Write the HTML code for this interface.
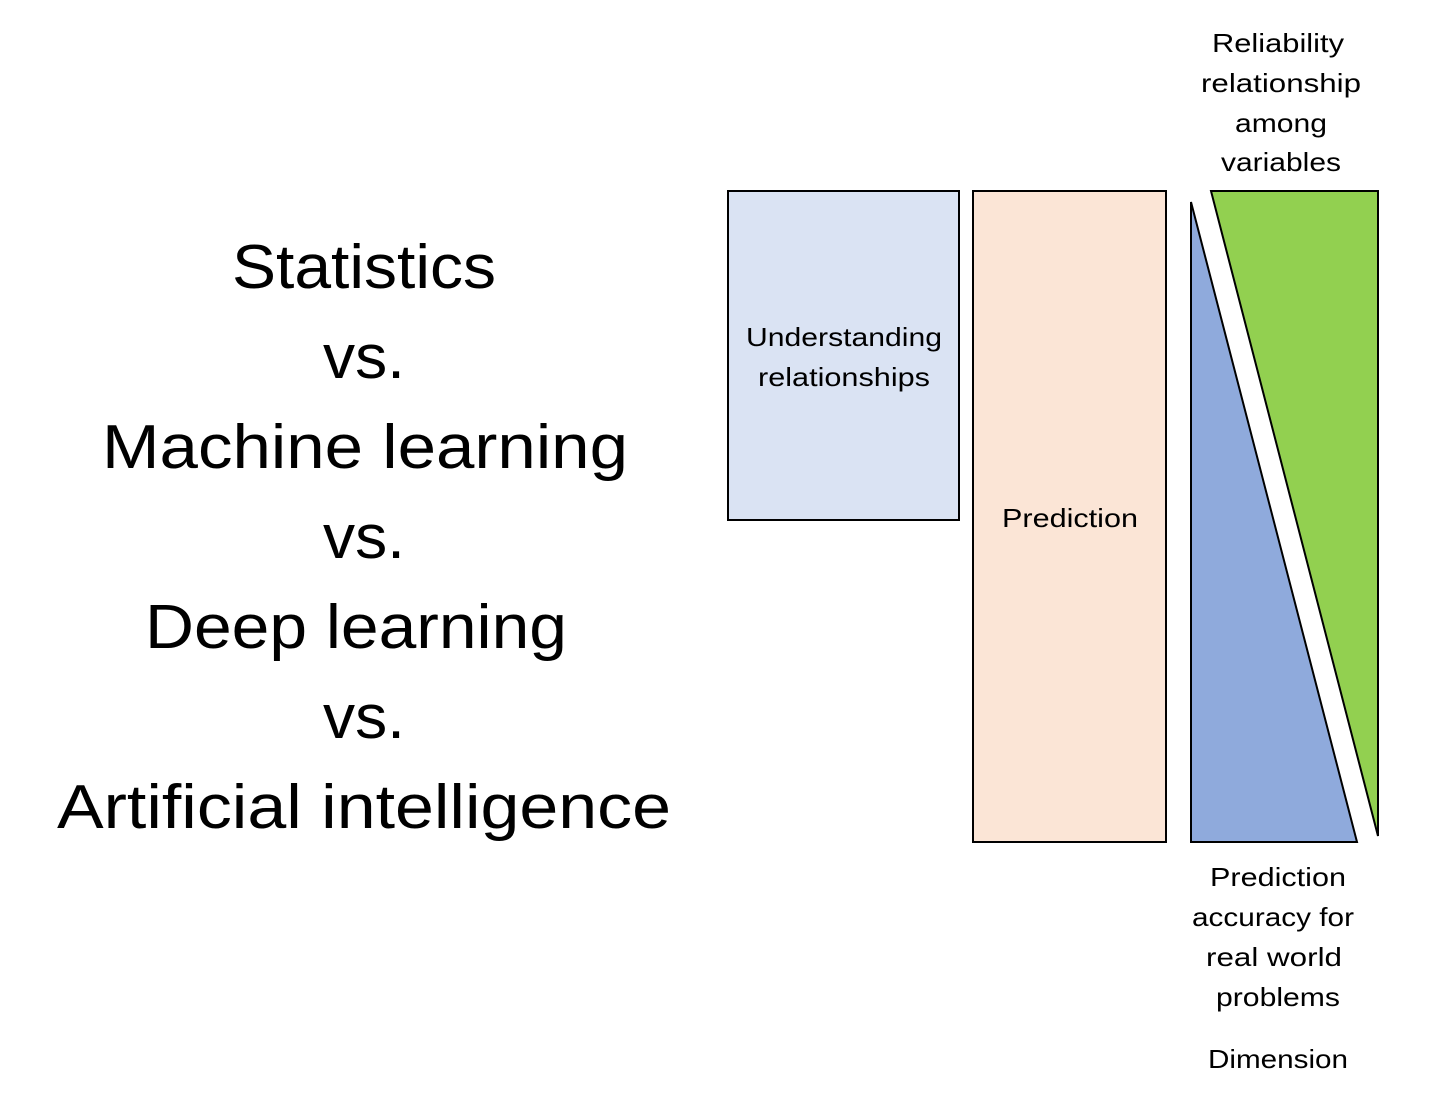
<!DOCTYPE html>
<html><head><style>body{margin:0;background:#fff}svg{display:block}</style></head>
<body>
<svg width="1433" height="1098" viewBox="0 0 1433 1098" xmlns="http://www.w3.org/2000/svg" font-family="Liberation Sans, sans-serif">
<g font-size="62" text-anchor="middle" fill="#000">
<text x="364" y="288" textLength="264" lengthAdjust="spacingAndGlyphs">Statistics</text>
<text x="364" y="378" textLength="82" lengthAdjust="spacingAndGlyphs">vs.</text>
<text x="365" y="468" textLength="526" lengthAdjust="spacingAndGlyphs">Machine learning</text>
<text x="364" y="558" textLength="82" lengthAdjust="spacingAndGlyphs">vs.</text>
<text x="356" y="648" textLength="422" lengthAdjust="spacingAndGlyphs">Deep learning</text>
<text x="364" y="738" textLength="82" lengthAdjust="spacingAndGlyphs">vs.</text>
<text x="364" y="828" textLength="614" lengthAdjust="spacingAndGlyphs">Artificial intelligence</text>
</g>
<rect x="728" y="191" width="231" height="329" fill="#dae3f3" stroke="#000" stroke-width="2"/>
<rect x="973" y="191" width="193" height="651" fill="#fbe5d6" stroke="#000" stroke-width="2"/>
<polygon points="1191,202 1191,842 1357,842" fill="#8faadc" stroke="#000" stroke-width="2"/>
<polygon points="1211,191 1378,191 1378,836" fill="#92d050" stroke="#000" stroke-width="2"/>
<g font-size="26" text-anchor="middle" fill="#000">
<text x="844" y="346" textLength="196" lengthAdjust="spacingAndGlyphs">Understanding</text>
<text x="844" y="386" textLength="172" lengthAdjust="spacingAndGlyphs">relationships</text>
<text x="1070" y="527" textLength="136" lengthAdjust="spacingAndGlyphs">Prediction</text>
<text x="1278" y="52" textLength="132" lengthAdjust="spacingAndGlyphs">Reliability</text>
<text x="1281" y="92" textLength="160" lengthAdjust="spacingAndGlyphs">relationship</text>
<text x="1281" y="132" textLength="92" lengthAdjust="spacingAndGlyphs">among</text>
<text x="1281" y="171" textLength="120" lengthAdjust="spacingAndGlyphs">variables</text>
<text x="1278" y="886" textLength="136" lengthAdjust="spacingAndGlyphs">Prediction</text>
<text x="1273" y="926" textLength="162" lengthAdjust="spacingAndGlyphs">accuracy for</text>
<text x="1274" y="966" textLength="136" lengthAdjust="spacingAndGlyphs">real world</text>
<text x="1278" y="1006" textLength="124" lengthAdjust="spacingAndGlyphs">problems</text>
<text x="1278" y="1068" textLength="140" lengthAdjust="spacingAndGlyphs">Dimension</text>
</g>
</svg>
</body></html>
